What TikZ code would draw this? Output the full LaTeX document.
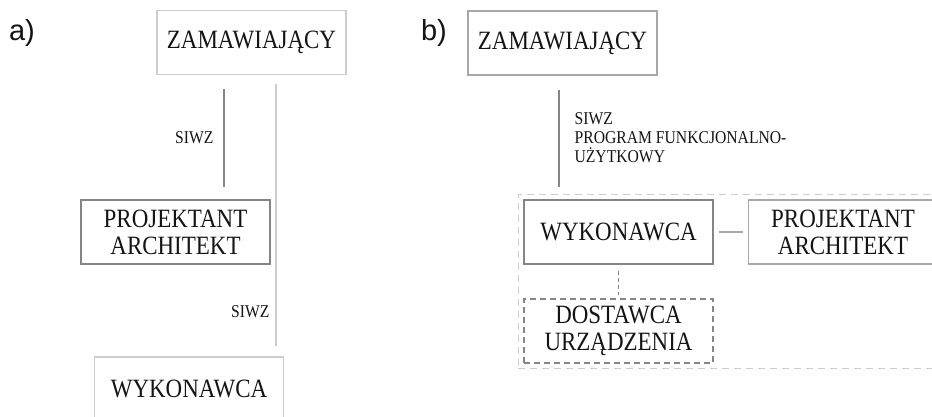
\documentclass[tikz,border=0pt]{standalone}
\usepackage{fontspec}
\setmainfont{Liberation Serif}[FakeStretch=0.87]
\newfontfamily\tagfont{Liberation Sans}
\usetikzlibrary{fit}
\definecolor{ciemny}{HTML}{141414}
\definecolor{linia}{HTML}{858585}
\definecolor{srednia}{HTML}{A8A8A8}
\definecolor{jasna}{HTML}{CDCDCD}

\begin{document}
\begin{tikzpicture}[x=0.5pt,y=-0.5pt,
	box/.style={draw=linia,line width=0.6pt,minimum width=94.5pt,minimum height=32pt,
		inner sep=2pt,align=center,text=ciemny,font=\fontsize{13.2}{13.5}\selectfont},
	jbox/.style={box,draw=jasna},
	sbox/.style={box,draw=srednia},
	dbox/.style={box,dash pattern=on 3pt off 2pt},
	conn/.style={draw=linia,line width=0.6pt},
	lbl/.style={text=ciemny,font=\fontsize{9}{9.5}\selectfont,inner sep=0pt,align=left},
	tag/.style={text=ciemny,font=\tagfont\fontsize{14.5}{15}\selectfont}]
	\useasboundingbox (0,0) rectangle (932,417);
	\clip (0,0) rectangle (932,417);

	% a)
	\node[tag] (tagA) at (22,33) {a)};
	\node[jbox] (zamA) at (251.5,42.5) {ZAMAWIAJĄCY};
	\node[box] (projA) at (175.5,232) {PROJEKTANT\\ARCHITEKT};
	\node[jbox] (wykA) at (189,389) {WYKONAWCA};
	\draw[conn,shorten <=7pt,shorten >=6pt] (zamA.south -| 224,0) -- (projA.north -| 224,0)
		node[lbl,midway,left=5pt] (siwzA) {SIWZ};
	\draw[conn,draw=jasna,shorten <=4.5pt,shorten >=5pt] (zamA.south -| 276,0) -- (wykA.north -| 276,0)
		node[lbl,pos=0.84,left=3pt] (siwzB) {SIWZ};

	% b)
	\node[tag] (tagB) at (434,33) {b)};
	\node[sbox] (zamB) at (562.5,43) {ZAMAWIAJĄCY};
	\node[box] (wykB) at (618.5,232) {WYKONAWCA};
	\node[sbox] (projB) at (843,232) {PROJEKTANT\\ARCHITEKT};
	\node[dbox] (dosB) at (618.5,331) {DOSTAWCA\\URZĄDZENIA};
	\node[draw=jasna,line width=0.6pt,dash pattern=on 3.5pt off 2.5pt,inner sep=2.5pt,
		fit=(wykB)(projB)(dosB)] (grupa) {};
	\draw[conn,shorten <=7pt,shorten >=6pt] (zamB.south -| 559,0) -- (wykB.north -| 559,0)
		node[lbl,midway,right=7.5pt] (program) {SIWZ\\PROGRAM FUNKCJONALNO-\\UŻYTKOWY};
	\draw[conn,draw=srednia,shorten <=2.5pt,shorten >=2.5pt] (wykB) -- (projB);
	\draw[conn,dash pattern=on 2pt off 1.5pt,shorten <=3pt,shorten >=1.5pt] (wykB) -- (dosB);
\end{tikzpicture}
\end{document}
